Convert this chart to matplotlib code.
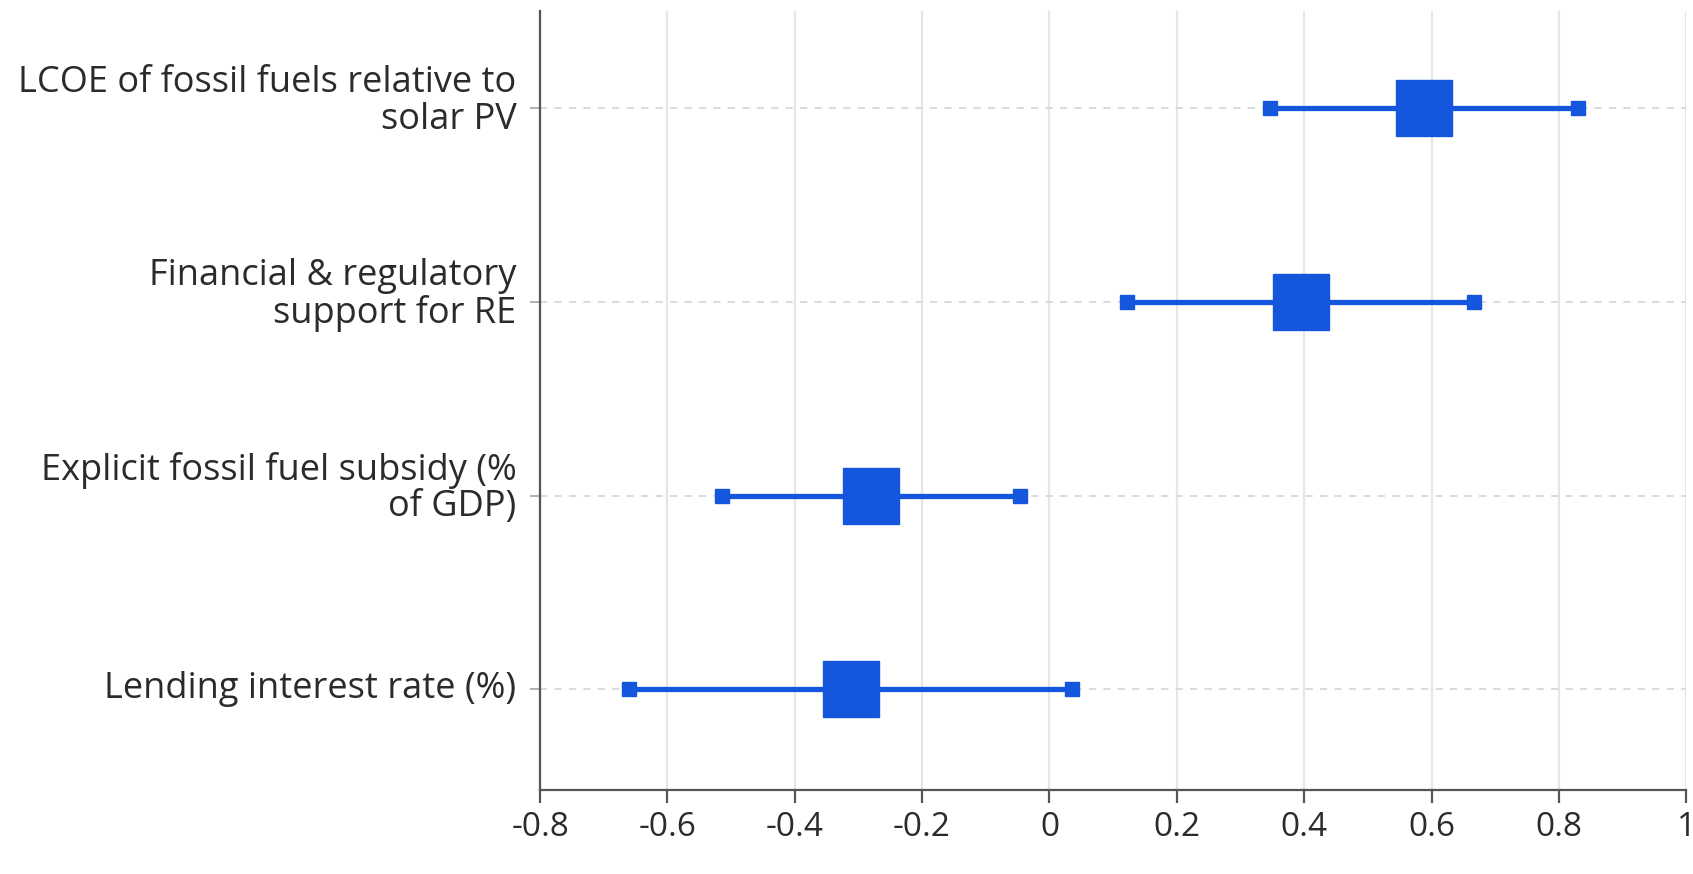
import numpy as np
import matplotlib.pyplot as plt

plt.rcParams['font.family'] = ['Open Sans', 'DejaVu Sans']

labels = ["Lending interest rate (%)",
          "Explicit fossil fuel subsidy (%\nof GDP)",
          "Financial & regulatory\nsupport for RE",
          "LCOE of fossil fuels relative to\nsolar PV"]
estimate = [-0.312, -0.281, 0.395, 0.588]
lower = [-0.661, -0.515, 0.122, 0.346]
upper = [0.036, -0.046, 0.666, 0.830]
xticks = [-0.8, -0.6, -0.4, -0.2, 0, 0.2, 0.4, 0.6, 0.8, 1]
xticklabels = ["-0.8", "-0.6", "-0.4", "-0.2", "0", "0.2", "0.4", "0.6", "0.8", "1"]

blue = '#1557dc'
dpi = 100
fig = plt.figure(figsize=(1693 / dpi, 874 / dpi), dpi=dpi)
ax = fig.add_axes([0.319, 0.096, 0.677, 0.891])

y = np.arange(len(labels))

for yi in y:
    ax.axhline(yi, color='#d5d8de', lw=1.3, ls=(0, (4, 4)), zorder=1)

ax.hlines(y, lower, upper, color=blue, lw=3.8, zorder=3)
ax.plot(lower, y, 's', color=blue, ms=10, zorder=4)
ax.plot(upper, y, 's', color=blue, ms=10, zorder=4)
ax.plot(estimate, y, 's', color=blue, ms=41, zorder=5)

ax.set_xlim(-0.8, 1)
ax.set_ylim(-0.52, 3.5)
ax.set_xticks(xticks)
ax.set_xticklabels(xticklabels)
ax.set_yticks(y)
ax.set_yticklabels([])

# category labels as text so the two-line ones can sit a bit higher, like the original
for yi, lab in zip(y, labels):
    up = 5 if '\n' in lab else 0
    ax.annotate(lab, xy=(0, yi), xycoords=ax.get_yaxis_transform(),
                xytext=(-17, up), textcoords='offset points',
                ha='right', va='center', fontsize=26, color='#2b2b2b',
                linespacing=1.02, annotation_clip=False)

ax.grid(axis='x', color='#e6e6e6', lw=1.6, zorder=0)
ax.set_axisbelow(True)

for s in ['top', 'right']:
    ax.spines[s].set_visible(False)
for s in ['left', 'bottom']:
    ax.spines[s].set_color('#555555')
    ax.spines[s].set_linewidth(1.6)

ax.tick_params(axis='x', length=9, width=1.6, color='#555555', labelsize=24,
               labelcolor='#2b2b2b', pad=6)
ax.tick_params(axis='y', length=7, width=1.3, color='#aaaaaa')

fig.savefig('out.png', dpi=dpi)
